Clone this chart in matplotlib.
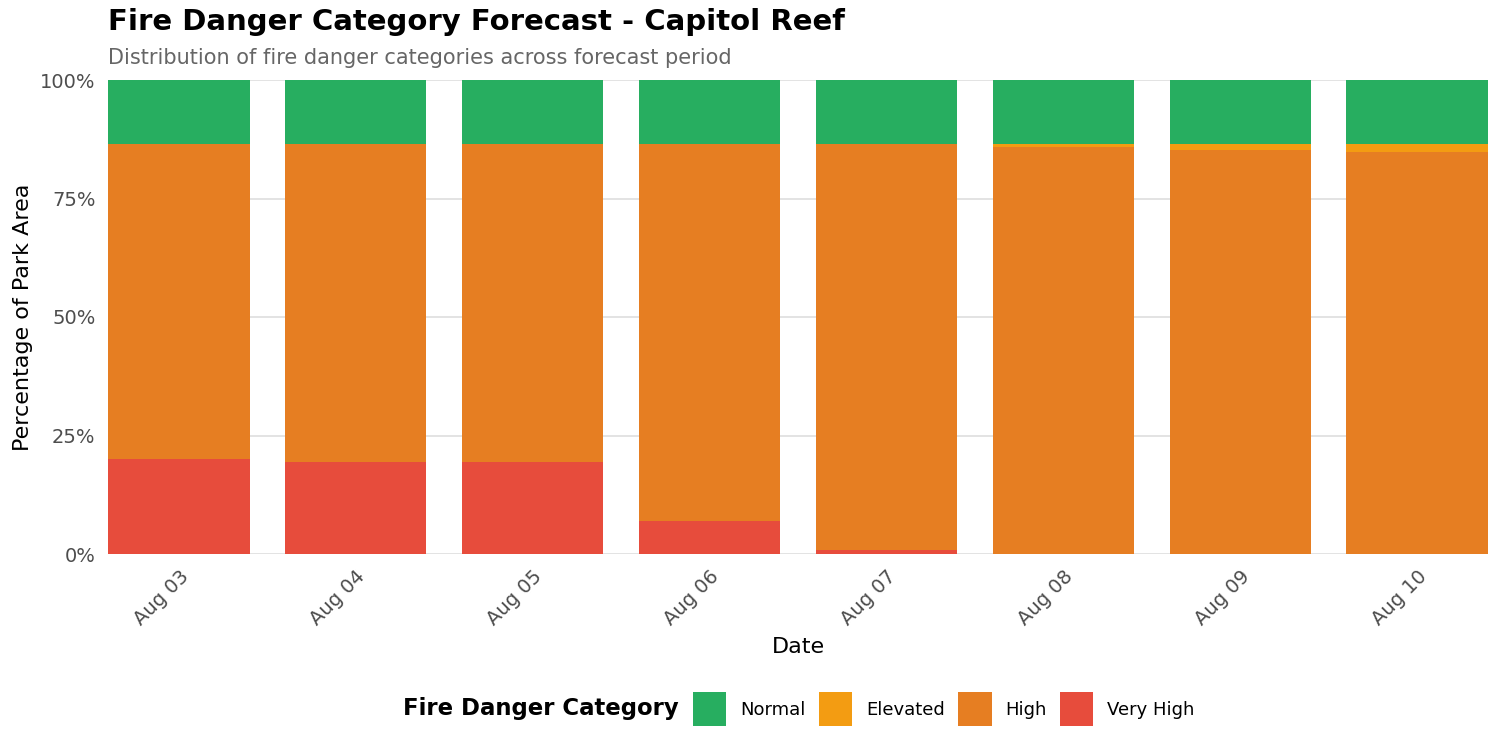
import matplotlib.pyplot as plt
import numpy as np
from matplotlib.patches import Patch

plt.rcParams['font.family'] = ['DejaVu Sans']

dates = ['Aug 03', 'Aug 04', 'Aug 05', 'Aug 06', 'Aug 07', 'Aug 08', 'Aug 09', 'Aug 10']
very_high = [20.0, 19.4, 19.4, 7.0, 0.9, 0.0, 0.0, 0.0]
high = [66.5, 67.1, 67.1, 79.5, 85.6, 85.9, 85.2, 84.8]
elevated = [0.0, 0.0, 0.0, 0.0, 0.0, 0.6, 1.3, 1.7]
normal = [13.5, 13.5, 13.5, 13.5, 13.5, 13.5, 13.5, 13.5]

categories = ['Very High', 'High', 'Elevated', 'Normal']
series = [very_high, high, elevated, normal]
colors = {'Normal': '#27AE60', 'Elevated': '#F39C12', 'High': '#E67E22', 'Very High': '#E74C3C'}

fig = plt.figure(figsize=(15, 7.5), dpi=100)
ax = fig.add_axes([108 / 1500, 1 - 554 / 750, 1380 / 1500, 474 / 750])

x = np.arange(len(dates))
bottom = np.zeros(len(dates))
for cat, vals in zip(categories, series):
    ax.bar(x, vals, bottom=bottom, width=0.8, color=colors[cat], linewidth=0, zorder=2)
    bottom += np.array(vals)

ax.set_xlim(-0.4, len(dates) - 0.6)
ax.set_ylim(0, 100)
ax.set_yticks([0, 25, 50, 75, 100])
ax.set_yticklabels(['0%', '25%', '50%', '75%', '100%'])
ax.set_xticks(x)
ax.set_xticklabels(dates, rotation=45, ha='right', rotation_mode='anchor')
ax.tick_params(axis='both', length=0, labelsize=14, colors='#4d4d4d')
ax.tick_params(axis='y', pad=9)
ax.tick_params(axis='x', pad=9)
ax.grid(axis='y', color='#dedede', linewidth=1.2, zorder=0)
for s in ax.spines.values():
    s.set_visible(False)

ax.set_xlabel('Date', fontsize=16, labelpad=6)
ax.set_ylabel('Percentage of Park Area', fontsize=16, labelpad=5)

fig.text(108 / 1500, 1 - 22 / 750, 'Fire Danger Category Forecast - Capitol Reef',
         fontsize=21, fontweight='bold', va='center', ha='left')
fig.text(108 / 1500, 1 - 58 / 750, 'Distribution of fire danger categories across forecast period',
         fontsize=15, color='#666666', va='center', ha='left')

# legend: title on the left, entries in one row
fig.text(679 / 1500, 1 - 709 / 750, 'Fire Danger Category', fontsize=16.4,
         fontweight='bold', va='center', ha='right')
order = ['Normal', 'Elevated', 'High', 'Very High']
handles = [Patch(facecolor=colors[c], label=c) for c in order]
fig.legend(handles=handles, loc='center left', bbox_to_anchor=(693 / 1500, 1 - 709 / 750), ncol=4,
           frameon=False, fontsize=13, borderpad=0, borderaxespad=0,
           handlelength=1.85, handleheight=2.5, handletextpad=0.75, columnspacing=0.75)

fig.savefig('out.png', dpi=100)
